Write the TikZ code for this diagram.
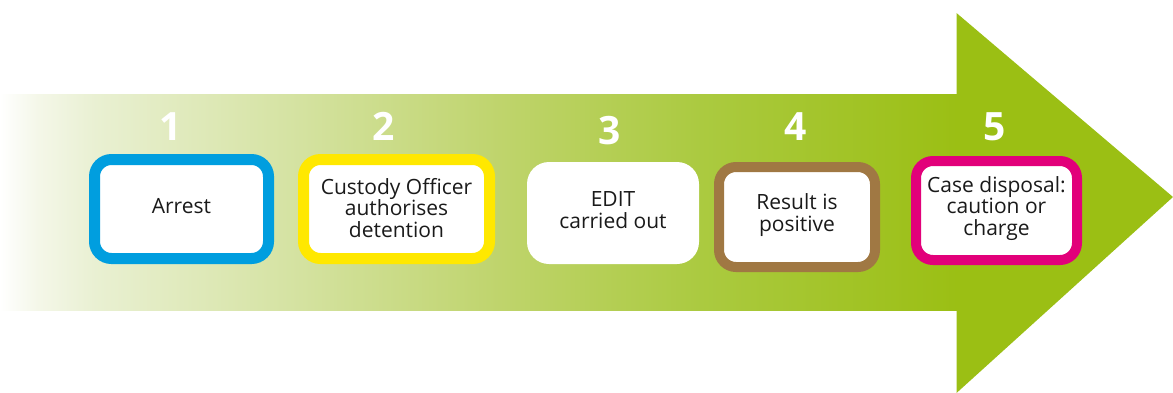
\documentclass[tikz,border=0pt]{standalone}
\usepackage{fontspec}
\setmainfont{Open Sans}
\definecolor{g0}{HTML}{FFFFFF}
\definecolor{g1}{HTML}{F4F7E8}
\definecolor{g2}{HTML}{E9F0D2}
\definecolor{g3}{HTML}{D4E2A0}
\definecolor{g4}{HTML}{BFD46C}
\definecolor{g5}{HTML}{ABCA40}
\definecolor{arrowgreen}{HTML}{9BBF14}
\definecolor{boxblue}{HTML}{009EDF}
\definecolor{boxyellow}{HTML}{FFE800}
\definecolor{boxbrown}{HTML}{A07843}
\definecolor{boxpink}{HTML}{E2007A}
\definecolor{textdark}{HTML}{1A1A1A}
\pgfdeclarehorizontalshading{arrowshade}{100bp}{color(0bp)=(g0); color(25bp)=(g0); color(27bp)=(g1); color(30bp)=(g2); color(40.7bp)=(g3); color(51.1bp)=(g4); color(61.6bp)=(g5); color(75bp)=(arrowgreen); color(100bp)=(arrowgreen)}
\tikzset{
  stepbox/.style={draw, fill=white, rounded corners=17pt, inner sep=0pt},
  lbl/.style={font=\fontsize{21}{21.7}\selectfont, text=textdark, align=center, inner sep=0pt},
  num/.style={font=\fontsize{39}{39}\selectfont\bfseries, text=white, anchor=base, inner sep=0pt}
}
\begin{document}
\begin{tikzpicture}[x=1pt,y=-1pt]
\useasboundingbox (0,0) rectangle (1173,392);
\shade[shading=arrowshade] (0,94) rectangle (957,310);
\fill[arrowgreen] (956.5,94) -- (956.5,13) -- (1173,197) -- (956.5,393) -- (956.5,310) -- cycle;
% boxes
\node[stepbox, draw=boxblue, line width=11pt, minimum width=174pt, minimum height=99pt] (b1) at (181.5,209) {};
\node[stepbox, draw=boxyellow, line width=11pt, minimum width=186pt, minimum height=99pt] (b2) at (396.5,209) {};
\node[stepbox, draw=none, rounded corners=22pt, minimum width=172pt, minimum height=102pt] (b3) at (613,213) {};
\node[stepbox, draw=boxbrown, line width=10pt, minimum width=156pt, minimum height=100pt] (b4) at (797,217) {};
\node[stepbox, draw=boxpink, line width=10pt, minimum width=161pt, minimum height=99pt] (b5) at (996.5,210.5) {};
% labels
\node[lbl] (t1) at ([yshift=3pt]b1.center) {Arrest};
\node[lbl] (t2) at ([yshift=1pt]b2.center) {Custody Officer\\authorises\\detention};
\node[lbl] (t3) at ([yshift=3pt]b3.center) {EDIT\\carried out};
\node[lbl] (t4) at ([yshift=2pt]b4.center) {Result is\\positive};
\node[lbl] (t5) at ([yshift=2pt]b5.center) {Case disposal:\\caution or\\charge};
% numbers
\node[num] (n1) at (171,140) {1};
\node[num] (n2) at (384,140) {2};
\node[num] (n3) at (610,144) {3};
\node[num] (n4) at (796,140) {4};
\node[num] (n5) at (995,140) {5};
\end{tikzpicture}
\end{document}
